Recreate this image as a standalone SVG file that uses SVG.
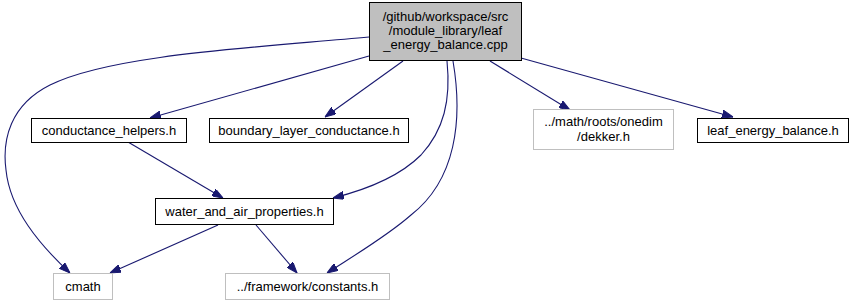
<svg xmlns="http://www.w3.org/2000/svg" width="853" height="305" viewBox="0 0 853 305">
<style>
.n rect{fill:#fff;stroke:#000;stroke-width:1}
.g rect{fill:#fff;stroke:#bfbfbf;stroke-width:1}
text{font-family:"Liberation Sans",Arial,Helvetica,sans-serif;font-size:13px;fill:#000;text-anchor:middle}
.e path{fill:none;stroke:#191970;stroke-width:1.1;marker-end:url(#ah)}
</style>
<defs>
<marker id="ah" markerUnits="userSpaceOnUse" viewBox="0 0 11 8" refX="11" refY="4" markerWidth="11" markerHeight="8" orient="auto">
<path d="M0,0 L11,4 L0,8 z" fill="#191970" stroke="#191970"/>
</marker>
</defs>
<rect width="853" height="305" fill="#fff"/>
<g class="e" id="edges">
<path d="M369,37 C250,48 110,55 50,85 C10,105 2,140 6,170 C10,210 40,245 70,273"/>
<path d="M369,56 L150,118"/>
<path d="M403,61 L325,117"/>
<path d="M447,61 C451,100 444,130 421,155 C398,178 365,190 333,198"/>
<path d="M453,61 C463,120 456,180 411,215 C386,237 350,258 327,273"/>
<path d="M490,61 L570,110"/>
<path d="M521,58 L733,117"/>
<path d="M128,142 L223,198"/>
<path d="M218,225 L110,273"/>
<path d="M256,225 L297,273"/>
</g>
<g id="root" class="n">
<rect x="369.5" y="2.5" width="152" height="58" style="fill:#bfbfbf"/>
<text x="445.5" y="21">/github/workspace/src</text>
<text x="445.5" y="35">/module_library/leaf</text>
<text x="445.5" y="49">_energy_balance.cpp</text>
</g>
<g id="conductance_helpers" class="n">
<rect x="31.5" y="118.5" width="155" height="24"/>
<text x="109" y="135">conductance_helpers.h</text>
</g>
<g id="boundary_layer_conductance" class="n">
<rect x="209.5" y="118.5" width="199" height="24"/>
<text x="309" y="135">boundary_layer_conductance.h</text>
</g>
<g id="dekker" class="g">
<rect x="533.5" y="109.5" width="140" height="40"/>
<text x="603.5" y="126">../math/roots/onedim</text>
<text x="603.5" y="141">/dekker.h</text>
</g>
<g id="leaf_energy_balance" class="n">
<rect x="697.5" y="118.5" width="151" height="24"/>
<text x="773" y="135">leaf_energy_balance.h</text>
</g>
<g id="water_and_air_properties" class="n">
<rect x="155.5" y="198.5" width="178" height="26"/>
<text x="244.5" y="216">water_and_air_properties.h</text>
</g>
<g id="cmath" class="g">
<rect x="53.5" y="273.5" width="59" height="26"/>
<text x="83" y="291">cmath</text>
</g>
<g id="constants" class="g">
<rect x="225.5" y="273.5" width="164" height="26"/>
<text x="307.5" y="291">../framework/constants.h</text>
</g>
</svg>
